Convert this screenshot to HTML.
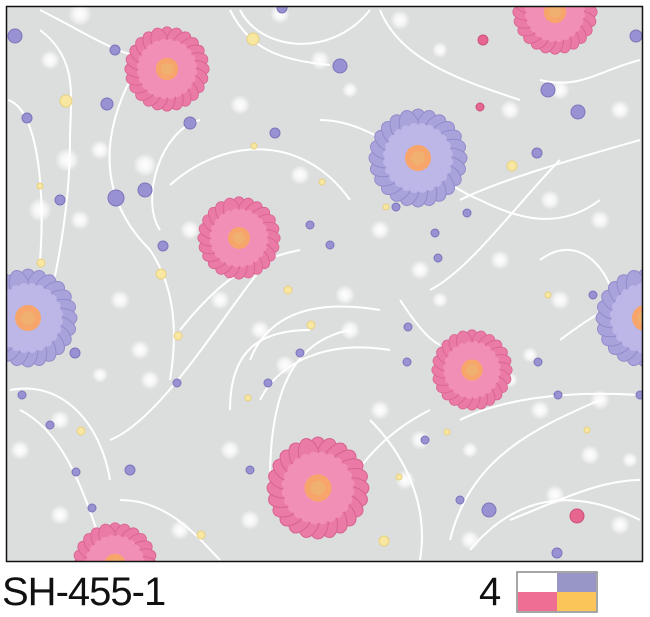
<!DOCTYPE html>
<html><head><meta charset="utf-8"><style>
html,body{margin:0;padding:0;background:#fff;width:650px;height:617px;overflow:hidden}
svg{position:absolute;left:0;top:0}
.t{position:absolute;font-family:"Liberation Sans",sans-serif;color:#111}
</style></head><body>
<svg width="650" height="617" viewBox="0 0 650 617">
<defs>
<clipPath id="c"><rect x="6" y="6" width="636" height="555"/></clipPath>
<radialGradient id="glow"><stop offset="0" stop-color="#fff" stop-opacity="1"/><stop offset="0.5" stop-color="#fff" stop-opacity="0.7"/><stop offset="1" stop-color="#fff" stop-opacity="0"/></radialGradient>
<g id="ring">
<circle r="40"/>
<ellipse cx="0" cy="-31" rx="10" ry="18" transform="rotate(0)"/>
<ellipse cx="0" cy="-31" rx="10" ry="18" transform="rotate(15)"/>
<ellipse cx="0" cy="-31" rx="10" ry="18" transform="rotate(30)"/>
<ellipse cx="0" cy="-31" rx="10" ry="18" transform="rotate(45)"/>
<ellipse cx="0" cy="-31" rx="10" ry="18" transform="rotate(60)"/>
<ellipse cx="0" cy="-31" rx="10" ry="18" transform="rotate(75)"/>
<ellipse cx="0" cy="-31" rx="10" ry="18" transform="rotate(90)"/>
<ellipse cx="0" cy="-31" rx="10" ry="18" transform="rotate(105)"/>
<ellipse cx="0" cy="-31" rx="10" ry="18" transform="rotate(120)"/>
<ellipse cx="0" cy="-31" rx="10" ry="18" transform="rotate(135)"/>
<ellipse cx="0" cy="-31" rx="10" ry="18" transform="rotate(150)"/>
<ellipse cx="0" cy="-31" rx="10" ry="18" transform="rotate(165)"/>
<ellipse cx="0" cy="-31" rx="10" ry="18" transform="rotate(180)"/>
<ellipse cx="0" cy="-31" rx="10" ry="18" transform="rotate(195)"/>
<ellipse cx="0" cy="-31" rx="10" ry="18" transform="rotate(210)"/>
<ellipse cx="0" cy="-31" rx="10" ry="18" transform="rotate(225)"/>
<ellipse cx="0" cy="-31" rx="10" ry="18" transform="rotate(240)"/>
<ellipse cx="0" cy="-31" rx="10" ry="18" transform="rotate(255)"/>
<ellipse cx="0" cy="-31" rx="10" ry="18" transform="rotate(270)"/>
<ellipse cx="0" cy="-31" rx="10" ry="18" transform="rotate(285)"/>
<ellipse cx="0" cy="-31" rx="10" ry="18" transform="rotate(300)"/>
<ellipse cx="0" cy="-31" rx="10" ry="18" transform="rotate(315)"/>
<ellipse cx="0" cy="-31" rx="10" ry="18" transform="rotate(330)"/>
<ellipse cx="0" cy="-31" rx="10" ry="18" transform="rotate(345)"/>
</g>
<g id="pink">
<g fill="#ea7aa6" stroke="#d8638f" stroke-width="1"><use href="#ring"/></g>
<g fill="#f28fb6" transform="rotate(7) scale(0.72)"><use href="#ring"/></g>
<circle r="13" fill="#f7a56a"/><circle r="7" fill="#f0b070"/>
</g>
<g id="purple">
<g fill="#a9a3dc" stroke="#928bca" stroke-width="1"><use href="#ring"/></g>
<g fill="#bcb7e6" transform="rotate(7) scale(0.72)"><use href="#ring"/></g>
<circle r="13" fill="#f7a56a"/><circle r="7" fill="#f0b070"/>
</g>
</defs>
<rect x="6" y="6" width="636" height="555" fill="#dcdedd"/>
<g clip-path="url(#c)">
<g fill="none" stroke="#fff" stroke-width="2">
<path d="M40 10 C100 40 120 60 200 70"/>
<path d="M40 30 C80 60 70 100 70 140 C70 200 60 260 45 320"/>
<path d="M8 100 C40 110 45 200 40 260"/>
<path d="M130 80 C100 140 100 200 150 250 C170 280 180 320 170 380"/>
<path d="M200 120 C160 130 140 200 160 230"/>
<path d="M230 10 C250 50 280 60 330 65"/>
<path d="M240 10 C260 50 330 60 370 10"/>
<path d="M320 120 C380 120 430 180 480 200 C520 220 560 230 600 200"/>
<path d="M380 10 C400 60 460 80 520 100"/>
<path d="M540 80 C580 90 600 70 640 60"/>
<path d="M170 185 C220 140 300 130 350 200"/>
<path d="M460 200 C500 180 570 160 640 140"/>
<path d="M10 390 C60 380 100 420 110 480"/>
<path d="M20 410 C60 430 80 480 100 540"/>
<path d="M110 440 C160 420 220 320 260 270"/>
<path d="M180 330 C220 280 250 260 300 250"/>
<path d="M250 360 C270 310 320 300 380 310"/>
<path d="M230 410 C230 350 260 330 310 330"/>
<path d="M270 480 C270 380 300 340 350 330"/>
<path d="M260 400 C280 360 330 340 390 350"/>
<path d="M400 300 C420 330 430 340 440 345"/>
<path d="M430 290 C470 270 520 200 560 160"/>
<path d="M460 420 C500 400 560 390 640 395"/>
<path d="M450 540 C470 460 530 430 600 400"/>
<path d="M510 520 C560 500 600 480 640 480"/>
<path d="M470 550 C520 490 580 490 640 520"/>
<path d="M120 500 C170 500 200 540 220 560"/>
<path d="M370 420 C400 450 430 500 420 560"/>
<path d="M340 500 C360 460 390 430 430 410"/>
<path d="M540 260 C580 230 620 270 620 340"/>
<path d="M560 340 C600 310 620 300 640 300"/>
</g>
<g fill="url(#glow)">
<circle cx="80" cy="14" r="12"/><circle cx="50" cy="60" r="10"/><circle cx="240" cy="105" r="10"/><circle cx="100" cy="150" r="10"/><circle cx="40" cy="210" r="12"/><circle cx="67" cy="160" r="12"/><circle cx="145" cy="165" r="12"/><circle cx="190" cy="230" r="10"/><circle cx="80" cy="220" r="10"/><circle cx="280" cy="14" r="10"/><circle cx="320" cy="60" r="10"/><circle cx="400" cy="20" r="10"/><circle cx="440" cy="50" r="8"/><circle cx="350" cy="90" r="8"/><circle cx="510" cy="110" r="10"/><circle cx="560" cy="90" r="10"/><circle cx="620" cy="110" r="10"/><circle cx="600" cy="220" r="10"/><circle cx="550" cy="200" r="10"/><circle cx="300" cy="175" r="10"/><circle cx="345" cy="295" r="10"/><circle cx="380" cy="230" r="10"/><circle cx="420" cy="270" r="10"/><circle cx="440" cy="300" r="8"/><circle cx="500" cy="260" r="10"/><circle cx="560" cy="300" r="10"/><circle cx="120" cy="300" r="10"/><circle cx="140" cy="350" r="10"/><circle cx="100" cy="375" r="8"/><circle cx="60" cy="420" r="10"/><circle cx="20" cy="450" r="10"/><circle cx="150" cy="380" r="10"/><circle cx="220" cy="300" r="10"/><circle cx="260" cy="330" r="10"/><circle cx="285" cy="365" r="10"/><circle cx="350" cy="330" r="10"/><circle cx="380" cy="410" r="10"/><circle cx="420" cy="440" r="10"/><circle cx="405" cy="480" r="10"/><circle cx="60" cy="515" r="10"/><circle cx="180" cy="530" r="10"/><circle cx="230" cy="450" r="10"/><circle cx="250" cy="520" r="10"/><circle cx="470" cy="540" r="10"/><circle cx="540" cy="410" r="10"/><circle cx="590" cy="455" r="10"/><circle cx="600" cy="400" r="10"/><circle cx="555" cy="495" r="10"/><circle cx="620" cy="525" r="10"/><circle cx="470" cy="450" r="8"/><circle cx="510" cy="380" r="8"/><circle cx="530" cy="355" r="8"/><circle cx="630" cy="460" r="8"/></g>
<g fill="#9892d2" stroke="#7a74bb" stroke-width="1">
<circle cx="15" cy="36" r="7"/><circle cx="115" cy="50" r="5"/><circle cx="27" cy="118" r="5"/><circle cx="107" cy="104" r="6"/><circle cx="190" cy="123" r="6"/><circle cx="275" cy="133" r="5"/><circle cx="60" cy="200" r="5"/><circle cx="116" cy="198" r="8"/><circle cx="145" cy="190" r="7"/><circle cx="163" cy="246" r="5"/><circle cx="340" cy="66" r="7"/><circle cx="282" cy="8" r="5"/><circle cx="548" cy="90" r="7"/><circle cx="578" cy="112" r="7"/><circle cx="537" cy="153" r="5"/><circle cx="636" cy="36" r="6"/><circle cx="435" cy="233" r="4"/><circle cx="467" cy="213" r="4"/><circle cx="396" cy="207" r="4"/><circle cx="310" cy="225" r="4"/><circle cx="330" cy="245" r="4"/><circle cx="75" cy="353" r="5"/><circle cx="22" cy="395" r="4"/><circle cx="50" cy="425" r="4"/><circle cx="76" cy="472" r="4"/><circle cx="92" cy="508" r="4"/><circle cx="130" cy="470" r="5"/><circle cx="177" cy="383" r="4"/><circle cx="268" cy="383" r="4"/><circle cx="300" cy="353" r="4"/><circle cx="408" cy="327" r="4"/><circle cx="438" cy="258" r="4"/><circle cx="407" cy="362" r="4"/><circle cx="538" cy="362" r="4"/><circle cx="593" cy="295" r="4"/><circle cx="558" cy="395" r="4"/><circle cx="640" cy="395" r="4"/><circle cx="425" cy="440" r="4"/><circle cx="489" cy="510" r="7"/><circle cx="557" cy="553" r="5"/><circle cx="460" cy="500" r="4"/><circle cx="250" cy="470" r="4"/></g>
<g fill="#e6668f" stroke="#c9507a"><circle cx="577" cy="516" r="7"/><circle cx="483" cy="40" r="5"/><circle cx="480" cy="107" r="4"/></g>
<g fill="#f7e7a0" stroke="#e8d080" stroke-width="1">
<circle cx="66" cy="101" r="6"/><circle cx="253" cy="39" r="6"/><circle cx="40" cy="186" r="3"/><circle cx="161" cy="274" r="5"/><circle cx="254" cy="146" r="3"/><circle cx="322" cy="182" r="3"/><circle cx="386" cy="207" r="3"/><circle cx="512" cy="166" r="5"/><circle cx="41" cy="263" r="4"/><circle cx="178" cy="336" r="4"/><circle cx="288" cy="290" r="4"/><circle cx="311" cy="325" r="4"/><circle cx="81" cy="431" r="4"/><circle cx="201" cy="535" r="4"/><circle cx="248" cy="398" r="3"/><circle cx="548" cy="295" r="3"/><circle cx="587" cy="430" r="3"/><circle cx="399" cy="477" r="3"/><circle cx="384" cy="541" r="5"/><circle cx="447" cy="432" r="3"/></g>
<use href="#pink" transform="translate(167,69) scale(0.86)"/>
<use href="#pink" transform="translate(555,12) scale(0.86)"/>
<use href="#purple" transform="translate(418,158) scale(1.0)"/>
<use href="#pink" transform="translate(239,238) scale(0.84)"/>
<use href="#purple" transform="translate(28,318) scale(1.0)"/>
<use href="#purple" transform="translate(645,318) scale(1.0)"/>
<use href="#pink" transform="translate(472,370) scale(0.82)"/>
<use href="#pink" transform="translate(318,488) scale(1.04)"/>
<use href="#pink" transform="translate(115,565) scale(0.86)"/>
</g>
<rect x="6.5" y="6.5" width="636" height="555" fill="none" stroke="#111" stroke-width="1.5"/>
<rect x="517" y="572" width="80" height="40" fill="#fff" stroke="#888" stroke-width="1.5"/>
<rect x="518" y="592" width="39" height="19" fill="#ee6f93"/>
<rect x="557" y="573" width="39" height="19" fill="#9896c7"/>
<rect x="557" y="592" width="39" height="19" fill="#fcc55a"/>
</svg>
<div class="t" style="left:2px;top:570px;font-size:40px;letter-spacing:-1px">SH-455-1</div>
<div class="t" style="left:479px;top:570px;font-size:40px">4</div>
</body></html>
